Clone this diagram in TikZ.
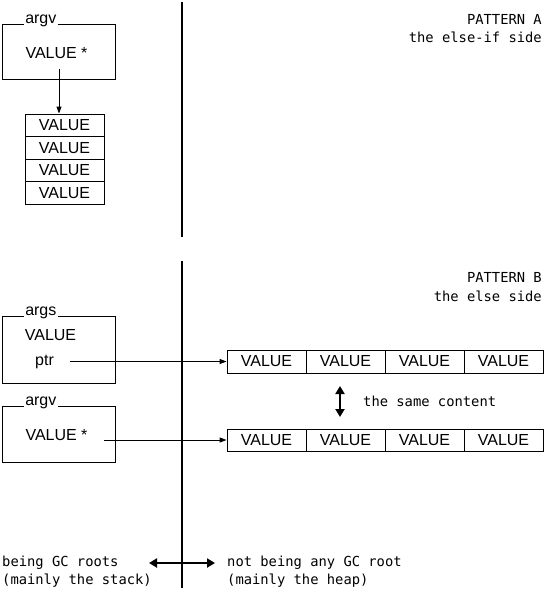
\documentclass[tikz,border=0pt]{standalone}
\usepackage{fontspec}
\setmainfont{Liberation Sans}
\setmonofont{DejaVu Sans Mono}
\usetikzlibrary{arrows.meta,positioning}
\definecolor{ink}{HTML}{000000}
\tikzset{
  frame/.style={draw=ink, line width=0.9pt, inner sep=0pt},
  cell/.style={draw=ink, line width=0.9pt, inner sep=0pt, minimum width=79pt, font=\fontsize{16}{18}\selectfont},
  tag/.style={fill=white, inner sep=1.5pt, text=ink, font=\fontsize{16}{18}\selectfont},
  txt/.style={inner sep=0pt, text=ink, font=\fontsize{16}{18}\selectfont},
  mono/.style={inner sep=0pt, text=ink, font=\ttfamily\fontsize{13.8}{18}\selectfont},
  link/.style={draw=ink, line width=0.9pt, -{Triangle[length=7pt,width=5pt]}},
  both/.style={draw=ink, line width=2pt, {Triangle[length=8pt,width=9pt]}-{Triangle[length=8pt,width=9pt]}},
  divider/.style={draw=ink, line width=2.4pt},
}
\begin{document}
\begin{tikzpicture}[x=1pt,y=-1pt]
  \useasboundingbox (0,0) rectangle (550,590);

  % the dividing line
  \draw[divider] (182,2) -- (182,237);
  \draw[divider] (182,261) -- (182,588);

  % pattern A
  \node[mono, anchor=base east] (patA) at (542,24) {PATTERN A};
  \node[mono, anchor=base east] (patAsub) at (542,42) {the else-if side};

  \node[frame, minimum width=113pt, minimum height=55pt] (argvA) at (58.5,51.5) {};
  \node[tag, anchor=base west] (argvAtag) at ([xshift=22pt]argvA.north west) {argv};
  \node[txt, anchor=base] (argvAval) at (56.5,58) {VALUE *};
  \foreach \i in {1,...,4}
    \node[cell, minimum height=22.5pt] (cellA\i) at (64.5,{102.75+22.5*\i}) {VALUE};
  \coordinate (argvAptr) at (59,69);
  \draw[link] (argvAptr) -- (argvAptr |- cellA1.north);

  % pattern B
  \node[mono, anchor=base east] (patB) at (542,282) {PATTERN B};
  \node[mono, anchor=base east] (patBsub) at (542,301) {the else side};

  \node[frame, minimum width=113pt, minimum height=67pt] (argsB) at (58.5,349.5) {};
  \node[tag, anchor=base west] (argsBtag) at ([xshift=22pt]argsB.north west) {args};
  \node[txt, anchor=base] (argsBval) at (50.5,340) {VALUE};
  \node[txt, anchor=base] (argsBptr) at (44.5,365) {ptr};

  \node[frame, minimum width=113pt, minimum height=56pt] (argvB) at (58.5,434) {};
  \node[tag, anchor=base west] (argvBtag) at ([xshift=22pt]argvB.north west) {argv};
  \node[txt, anchor=base] (argvBval) at (56.5,440) {VALUE *};

  \foreach \i in {1,...,4} {
    \node[cell, minimum height=23pt] (rowB\i) at ({187.5+79*\i},361.5) {VALUE};
    \node[cell, minimum height=22pt] (rowC\i) at ({187.5+79*\i},440) {VALUE};
  }
  \coordinate (argsBptr) at (70,361.5);
  \coordinate (argvBptr) at (104,440);
  \draw[link] (argsBptr) -- (rowB1.west);
  \draw[link] (argvBptr) -- (rowC1.west);

  \coordinate (sameTop) at (340,386);
  \coordinate (sameBot) at (340,417);
  \draw[both] (sameTop) -- (sameBot);
  \node[mono, anchor=base west] (same) at (363,406) {the same content};

  % GC roots
  \node[mono, anchor=base west] (rootL) at (2,566) {being GC roots};
  \node[mono, anchor=base west] (rootLsub) at (2,584) {(mainly the stack)};
  \node[mono, anchor=base west] (rootR) at (227,566) {not being any GC root};
  \node[mono, anchor=base west] (rootRsub) at (227,584) {(mainly the heap)};
  \coordinate (rootsL) at (149,563);
  \coordinate (rootsR) at (215,563);
  \draw[both] (rootsL) -- (rootsR);
\end{tikzpicture}
\end{document}
